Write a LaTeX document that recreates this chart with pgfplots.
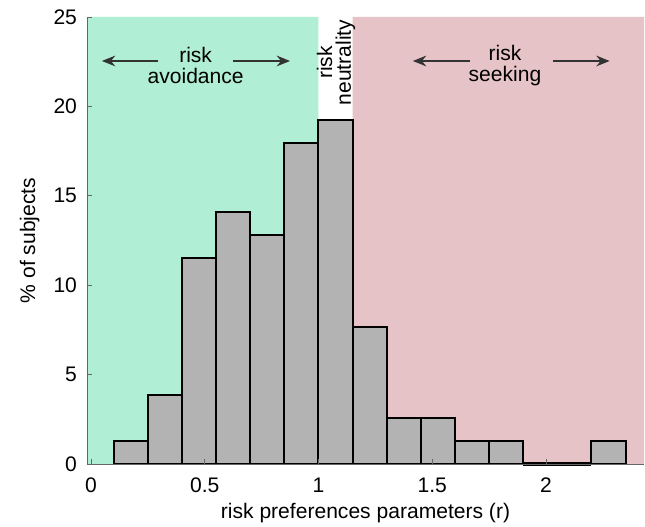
\documentclass[border=0pt]{standalone}
\usepackage{pgfplots}
\pgfplotsset{compat=1.18}
\usepackage{fontspec}
\setmainfont{Liberation Sans}
\usetikzlibrary{arrows.meta}
\definecolor{avoid}{HTML}{B0EED5}
\definecolor{seek}{HTML}{E6C3C6}
\definecolor{bar}{HTML}{B3B3B3}
\def\fs{\fontsize{15.8}{17}\selectfont}
\begin{document}
\begin{tikzpicture}
\begin{axis}[scale only axis,width=417.75pt,height=335.25pt,
  xmin=-0.0176,xmax=2.431,ymin=0,ymax=25,
  xtick={0,0.5,1,1.5,2},ytick={0,5,10,15,20,25},
  axis x line*=bottom,axis y line*=left,
  axis line style={black!60,line width=0.6pt},
  tick style={black!60,line width=0.6pt},tick align=inside,
  major tick length=4pt,
  tick label style={font=\fs},
  label style={font=\fs},
  xticklabel style={yshift=-7pt},
  yticklabel style={xshift=-4pt},
  /pgf/number format/assume math mode=true,
  xlabel={risk preferences parameters (r)},ylabel={\% of subjects},
  xlabel style={at={(axis description cs:0.5,0)},yshift=-26pt},
  ylabel style={at={(axis description cs:0,0.5)},yshift=32pt},
  axis on top,clip=false]
\addplot[fill=avoid,draw=none] coordinates {(-0.0176,0)(-0.0176,25)(1.0,25)(1.0,0)} \closedcycle;
\addplot[fill=seek,draw=none] coordinates {(1.15,0)(1.15,25)(2.431,25)(2.431,0)} \closedcycle;
\addplot[ybar interval,fill=bar,draw=black,line width=1.5pt] coordinates {
(0.10,1.28)(0.25,3.85)(0.40,11.54)(0.55,14.10)(0.70,12.82)(0.85,17.95)
(1.00,19.23)(1.15,7.69)(1.30,2.56)(1.45,2.56)(1.60,1.28)(1.75,1.28)
(1.90,0)(2.05,0)(2.20,1.28)(2.35,1.28)};
\addplot[black,line width=3pt] coordinates {(1.9,0)(2.2,0)};
\node[align=center,font=\fs,inner sep=0pt] at (axis cs:0.46,22.3) {risk\\[-1pt]avoidance};
\node[align=center,font=\fs,inner sep=0pt] at (axis cs:1.82,22.3) {risk\\[-1pt]seeking};
\node[align=center,font=\fs,inner sep=0pt,rotate=90] at (axis cs:1.077,22.45) {risk\\[-3pt]neutrality};
\draw[black!80,line width=1.2pt,-{Stealth[length=10pt,width=8pt]}] (axis cs:0.295,22.54) -- (axis cs:0.048,22.54);
\draw[black!80,line width=1.2pt,-{Stealth[length=10pt,width=8pt]}] (axis cs:0.624,22.54) -- (axis cs:0.875,22.54);
\draw[black!80,line width=1.2pt,-{Stealth[length=10pt,width=8pt]}] (axis cs:1.666,22.54) -- (axis cs:1.415,22.54);
\draw[black!80,line width=1.2pt,-{Stealth[length=10pt,width=8pt]}] (axis cs:2.03,22.54) -- (axis cs:2.28,22.54);
\end{axis}
\pgfresetboundingbox
\path ([shift={(-65.25pt,-47.25pt)}]current axis.south west) rectangle ([shift={(0.75pt,12.75pt)}]current axis.north east);
\end{tikzpicture}
\end{document}
